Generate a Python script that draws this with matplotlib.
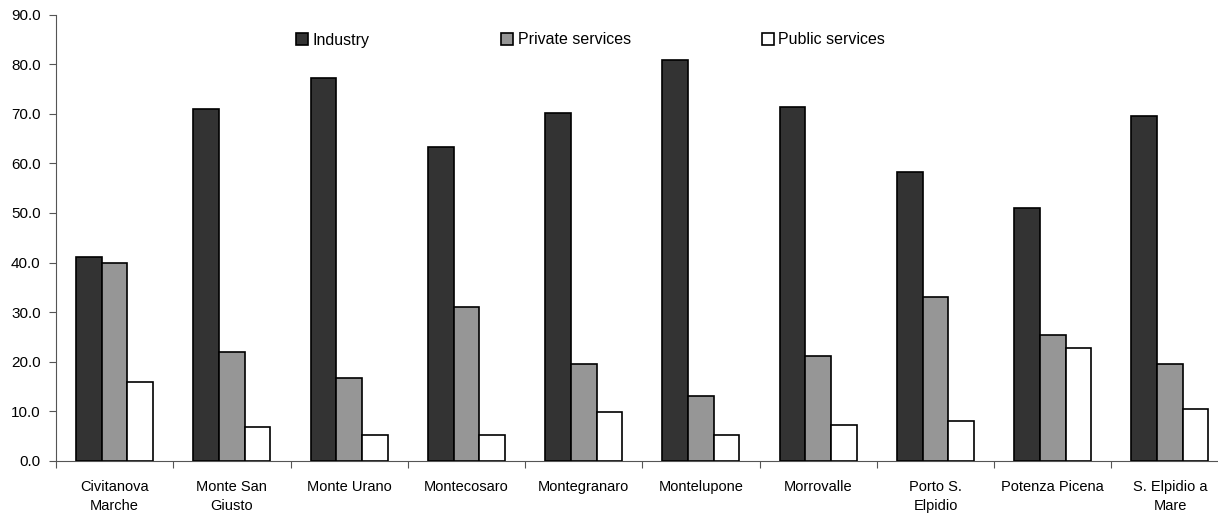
import numpy as np
import matplotlib.pyplot as plt

plt.rcParams['font.family'] = ['Liberation Sans', 'DejaVu Sans']

towns = ['Civitanova\nMarche', 'Monte San\nGiusto', 'Monte Urano', 'Montecosaro',
         'Montegranaro', 'Montelupone', 'Morrovalle', 'Porto S.\nElpidio',
         'Potenza Picena', 'S. Elpidio a\nMare']
industry = [41.1, 71.0, 77.3, 63.4, 70.2, 80.9, 71.4, 58.2, 51.0, 69.5]
private_services = [39.9, 21.9, 16.8, 31.0, 19.6, 13.2, 21.1, 33.1, 25.5, 19.6]
public_services = [15.9, 6.8, 5.2, 5.2, 9.9, 5.2, 7.2, 8.0, 22.7, 10.4]

series = [('Industry', industry, '#333333'),
          ('Private services', private_services, '#969696'),
          ('Public services', public_services, '#ffffff')]

fig = plt.figure(figsize=(12.18, 5.15), dpi=100)
ax = fig.add_axes([56 / 1218, 54 / 515, 1172.6 / 1218, 446.4 / 515])

x = np.arange(len(towns))
w = 0.219
for i, (name, vals, col) in enumerate(series):
    ax.bar(x + (i - 1) * w, vals, w, color=col, edgecolor='black',
           linewidth=1.2, label=name, zorder=3)

ax.set_xlim(-0.5, len(towns) - 0.5)
ax.set_ylim(0, 90)
ax.set_yticks(np.arange(0, 91, 10))
ax.set_yticklabels(['%.1f' % v for v in np.arange(0, 91, 10)])

# boundaries get the tick marks, centres get the names
ax.set_xticks(np.arange(-0.5, len(towns) + 0.5, 1))
ax.set_xticklabels([])
ax.set_xticks(x, minor=True)
ax.set_xticklabels(towns, minor=True, linespacing=1.45)
ax.tick_params(axis='x', which='minor', length=0, pad=14, labelsize=10.5)
ax.tick_params(axis='x', which='major', length=5, direction='out', color='#555555')
ax.tick_params(axis='y', length=5, direction='out', color='#555555', labelsize=11, pad=6)

for s in ['top', 'right']:
    ax.spines[s].set_visible(False)
for s in ['left', 'bottom']:
    ax.spines[s].set_color('#555555')

ax.legend(ncol=3, frameon=False, loc='center left',
          bbox_to_anchor=(296 / 1218, 1 - 40 / 515), bbox_transform=fig.transFigure,
          handlelength=0.75, handleheight=0.75, handletextpad=0.3,
          columnspacing=8.2, borderaxespad=0, borderpad=0, fontsize=11.5)

plt.savefig('out.png', dpi=100)
